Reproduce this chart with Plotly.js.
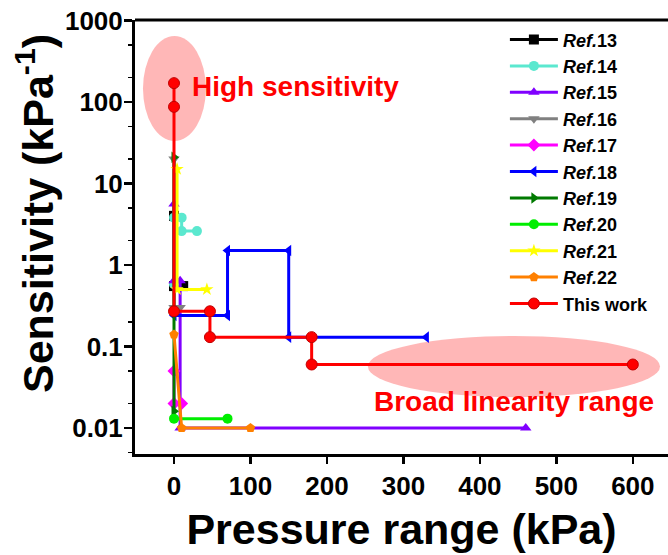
<!DOCTYPE html>
<html>
<head>
<meta charset="utf-8">
<script src="https://cdn.plot.ly/plotly-3.0.1.min.js"></script>
<style>html,body{margin:0;padding:0;background:#fff;}#chart{width:668px;height:555px;}</style>
</head>
<body>
<div id="chart"></div>
<script>
// Data (pressure range in kPa, sensitivity in kPa^-1)
const ref13_x = [0, 0, 12];
const ref13_y = [4.0, 0.55, 0.55];
const ref14_x = [0, 0, 10, 10, 30];
const ref14_y = [0.58, 3.8, 3.8, 2.6, 2.6];
const ref15_x = [0, 0, 8, 8, 460];
const ref15_y = [5.6, 0.64, 0.64, 0.01, 0.01];
const ref16_x = [0, 0, 8];
const ref16_y = [20, 0.3, 0.3];
const ref17_x = [0, 0, 10];
const ref17_y = [0.05, 0.02, 0.02];
const ref18_x = [0, 70, 70, 150, 150, 330];
const ref18_y = [0.24, 0.24, 1.5, 1.5, 0.13, 0.13];
const ref19_x = [0, 0];
const ref19_y = [21, 0.016];
const ref20_x = [0, 70];
const ref20_y = [0.013, 0.013];
const ref21_x = [4, 4, 43];
const ref21_y = [15, 0.5, 0.5];
const ref22_x = [0, 10, 100];
const ref22_y = [0.14, 0.01, 0.01];
const work_x = [0, 0, 0, 47, 47, 180, 180, 600];
const work_y = [170, 87, 0.27, 0.27, 0.13, 0.13, 0.06, 0.06];

const yTickVals = [0.01, 0.1, 1, 10, 100, 1000];
const yTickText = ['0.01', '0.1', '1', '10', '100', '1000'];
const xTickVals = [0, 100, 200, 300, 400, 500, 600];

const seriesNames = ['<b><i>Ref.</i>13</b>', '<b><i>Ref.</i>14</b>', '<b><i>Ref.</i>15</b>', '<b><i>Ref.</i>16</b>',
  '<b><i>Ref.</i>17</b>', '<b><i>Ref.</i>18</b>', '<b><i>Ref.</i>19</b>', '<b><i>Ref.</i>20</b>',
  '<b><i>Ref.</i>21</b>', '<b><i>Ref.</i>22</b>', '<b>This work</b>'];
const seriesX = [ref13_x, ref14_x, ref15_x, ref16_x, ref17_x, ref18_x, ref19_x, ref20_x, ref21_x, ref22_x, work_x];
const seriesY = [ref13_y, ref14_y, ref15_y, ref16_y, ref17_y, ref18_y, ref19_y, ref20_y, ref21_y, ref22_y, work_y];
const colors = ['#000000', '#5BE8CF', '#8000FF', '#808080', '#FF00FF', '#0000FF', '#007A00', '#00EE00', '#FFFF00', '#FF8000', '#FF0000'];
const symbols = ['square', 'circle', 'triangle-up', 'triangle-down', 'diamond', 'triangle-left', 'triangle-right', 'circle', 'star', 'pentagon', 'circle'];

const traces = seriesNames.map((n, i) => ({
  x: seriesX[i], y: seriesY[i], name: n, type: 'scatter', mode: 'lines+markers',
  line: {color: colors[i], width: 3},
  marker: {symbol: symbols[i], color: colors[i], size: i === 10 ? 11 : 10,
    line: {color: i === 10 ? '#C00000' : colors[i], width: i === 10 ? 1 : 0}}
}));

const font = 'Arial, "Liberation Sans", Helvetica, sans-serif';
const layout = {
  width: 668, height: 555,
  margin: {l: 135, r: 0, t: 20, b: 101},
  paper_bgcolor: '#fff', plot_bgcolor: '#fff',
  showlegend: true,
  font: {family: font, color: '#000'},
  xaxis: {
    range: [-51, 646], tickvals: xTickVals, ticks: 'outside', ticklen: 7, tickwidth: 2.5, tickcolor: '#000',
    showline: true, linecolor: '#000', linewidth: 3, showgrid: false, zeroline: false,
    tickfont: {family: font, size: 26, weight: 'bold', color: '#000'},
    title: {text: '<b>Pressure range (kPa)</b>', font: {family: font, size: 43, color: '#000'}, standoff: 14}
  },
  yaxis: {
    type: 'log', range: [-2.32, 3.005], tickvals: yTickVals, ticktext: yTickText,
    ticks: 'outside', ticklen: 8, tickwidth: 2.5, tickcolor: '#000', ticklabelstandoff: -4,
    minor: {ticks: 'outside', ticklen: 4, tickwidth: 1.5, tickcolor: '#000', showgrid: false},
    showline: true, linecolor: '#000', linewidth: 3, showgrid: false, zeroline: false,
    tickfont: {family: font, size: 26, weight: 'bold', color: '#000'}
  },
  legend: {
    x: 0.694, y: 0.997, xanchor: 'left', yanchor: 'top', bgcolor: 'rgba(0,0,0,0)',
    font: {family: font, size: 18, color: '#000'}, itemwidth: 48, tracegroupgap: 0
  },
  shapes: [
    {type: 'circle', xref: 'paper', yref: 'paper', x0: 0.015, x1: 0.133, y0: 0.721, y1: 0.963,
      fillcolor: '#FFAFAF', line: {width: 0}, opacity: 0.9, layer: 'below'},
    {type: 'circle', xref: 'paper', yref: 'paper', x0: 0.437, x1: 0.985, y0: 0.131, y1: 0.272,
      fillcolor: '#FFAFAF', line: {width: 0}, opacity: 0.9, layer: 'below'},
    {type: 'line', xref: 'paper', yref: 'paper', x0: 0, x1: 1, y0: 1, y1: 1, line: {color: '#000', width: 3}}
  ],
  annotations: [
    {text: '<b>Sensitivity (kPa<sup>-1</sup>)</b>', xref: 'paper', yref: 'paper', textangle: -90,
      x: (35 - 135) / 533, y: 1 - (214 - 20) / 434, xanchor: 'center', yanchor: 'middle', showarrow: false,
      font: {family: font, size: 43, color: '#000'}},
    {text: '<b>High sensitivity</b>', xref: 'paper', yref: 'paper', x: (190 - 135) / 533, y: 1 - (86 - 20) / 434,
      xanchor: 'left', yanchor: 'middle', showarrow: false, font: {family: font, size: 28, color: '#FF0000'}},
    {text: '<b>Broad linearity range</b>', xref: 'paper', yref: 'paper', x: (372 - 135) / 533, y: 1 - (401 - 20) / 434,
      xanchor: 'left', yanchor: 'middle', showarrow: false, font: {family: font, size: 28, color: '#FF0000'}}
  ]
};

Plotly.newPlot('chart', traces, layout, {displayModeBar: false, staticPlot: true});
</script>
</body>
</html>
